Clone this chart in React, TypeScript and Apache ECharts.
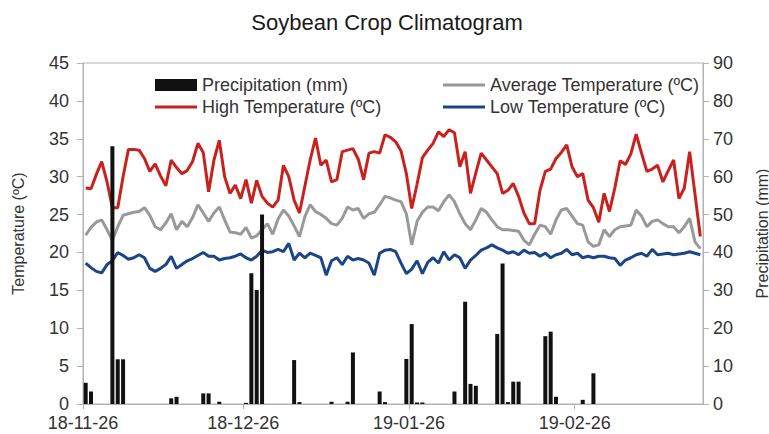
import React, { useEffect, useRef } from 'react';
import * as echarts from 'echarts';

const START_DATE = '2018-11-26';
const DAY_COUNT = 116;
const TICK_LABELS = ['18-11-26', '18-12-26', '19-01-26', '19-02-26'];

const HIGH_TEMP = [
  28.5, 28.4, 30.3, 32.0, 29.3, 25.9, 25.9, 30.0, 33.6, 33.6,
  33.5, 32.4, 30.7, 31.7, 30.1, 28.8, 32.2, 31.2, 30.4, 30.8,
  32.0, 34.4, 33.2, 28.0, 32.2, 34.8, 30.0, 27.8, 28.9, 27.1,
  29.6, 26.5, 29.5, 27.4, 26.5, 26.0, 26.9, 31.5, 30.0, 26.9,
  25.2, 28.7, 32.2, 35.1, 31.5, 32.2, 29.3, 29.6, 33.3, 33.5,
  33.7, 32.3, 29.6, 33.1, 33.3, 33.1, 35.5, 35.2, 34.6, 33.4,
  30.4, 25.8, 29.0, 32.5, 33.5, 34.4, 35.9, 35.3, 36.2, 35.8,
  31.3, 33.3, 27.8, 30.5, 33.1, 32.2, 31.3, 30.4, 27.8, 28.2,
  29.1, 27.4, 25.2, 23.8, 23.8, 28.2, 30.7, 31.0, 32.4, 33.2,
  34.2, 31.3, 30.0, 30.4, 26.9, 25.9, 24.0, 27.8, 25.4, 28.5,
  32.1, 31.6, 33.0, 35.6, 33.1, 30.7, 31.0, 31.5, 29.3, 30.8,
  32.2, 27.1, 28.5, 33.3, 27.7, 22.1,
];

const AVG_TEMP = [
  22.3, 23.3, 24.0, 24.3, 23.0, 21.6, 23.4, 24.9, 25.1, 25.3,
  25.4, 25.9, 24.9, 23.4, 23.0, 23.9, 25.1, 23.0, 24.1, 23.4,
  24.6, 26.3, 25.2, 24.1, 25.2, 26.0, 24.3, 22.7, 22.6, 22.4,
  23.3, 21.9, 22.2, 23.0, 23.8, 22.4, 24.4, 25.6, 24.8, 23.5,
  22.1, 24.7, 26.3, 25.4, 25.0, 24.5, 23.8, 23.6, 24.5, 26.0,
  25.6, 25.8, 24.5, 25.1, 25.3, 26.3, 27.4, 27.2, 26.9, 26.7,
  25.1, 21.0, 24.1, 25.3, 26.0, 26.0, 25.5, 26.7, 27.6, 26.7,
  25.1, 23.8, 23.0, 24.3, 25.8, 25.3, 24.3, 23.4, 23.0, 23.0,
  22.9, 22.8, 21.6, 21.0, 22.4, 23.6, 23.4, 22.4, 24.3, 25.6,
  25.8, 24.8, 23.8, 23.6, 21.4, 20.8, 21.0, 23.0, 22.1, 23.0,
  23.4, 23.5, 23.6, 25.6, 24.8, 23.4, 24.1, 24.3, 23.8, 23.4,
  23.4, 22.6, 23.4, 24.5, 21.4, 20.5,
];

const LOW_TEMP = [
  18.6, 18.0, 17.5, 17.3, 18.4, 18.9, 20.0, 19.6, 19.1, 19.3,
  19.7, 19.3, 17.9, 17.5, 17.9, 18.4, 19.5, 17.9, 18.4, 18.9,
  19.2, 19.6, 20.0, 19.5, 19.5, 19.0, 19.2, 19.3, 19.5, 19.8,
  19.3, 19.0, 19.5, 20.3, 20.0, 20.1, 20.4, 20.1, 21.2, 19.0,
  19.9, 19.3, 19.9, 19.6, 19.3, 17.0, 18.9, 19.3, 18.4, 19.5,
  19.0, 19.2, 19.0, 18.6, 17.0, 19.9, 20.3, 20.4, 20.1, 18.6,
  17.2, 17.8, 18.9, 17.2, 18.7, 19.3, 18.6, 20.1, 19.0, 19.7,
  19.3, 17.9, 19.0, 19.6, 20.3, 20.6, 21.0, 20.6, 20.3, 19.9,
  20.1, 19.7, 20.3, 19.9, 20.0, 19.5, 19.9, 19.3, 19.7, 19.9,
  20.4, 19.7, 19.9, 19.3, 19.5, 19.3, 19.5, 19.5, 19.3, 19.2,
  18.3, 19.0, 19.3, 19.7, 19.9, 19.5, 20.4, 19.7, 19.8, 19.9,
  19.7, 19.8, 19.9, 20.1, 19.9, 19.7,
];

const PRECIPITATION = [
  5.6, 3.3, 0, 0, 0, 68, 11.8, 11.8, 0, 0,
  0, 0, 0, 0, 0, 0, 1.5, 1.9, 0, 0,
  0, 0, 2.8, 2.8, 0, 0.6, 0, 0, 0, 0,
  0.3, 34.5, 30.1, 50, 0, 0, 0, 0, 0, 11.6,
  0.5, 0, 0, 0, 0, 0, 0.6, 0, 0, 0.6,
  13.6, 0, 0, 0, 0, 3.3, 0.5, 0, 0, 0,
  11.9, 21.1, 0.4, 0.4, 0, 0, 0, 0, 0, 3.3,
  0, 27, 5.3, 4.8, 0, 0, 0, 18.5, 37.1, 0.5,
  5.9, 5.9, 0, 0, 0, 0, 17.9, 19.1, 1.9, 0,
  0, 0, 0, 1.1, 0, 8.1, 0, 0, 0, 0,
  0, 0, 0, 0, 0, 0, 0, 0, 0, 0,
  0, 0, 0, 0, 0, 0,
];

function buildDays(n: number): string[] {
  const [y, m, d] = START_DATE.split('-').map(Number);
  const out: string[] = [];
  for (let i = 0; i < n; i++) {
    const dt = new Date(Date.UTC(y, m - 1, d + i));
    const yy = String(dt.getUTCFullYear()).slice(2);
    const mm = String(dt.getUTCMonth() + 1).padStart(2, '0');
    const dd = String(dt.getUTCDate()).padStart(2, '0');
    out.push(`${yy}-${mm}-${dd}`);
  }
  return out;
}

const FONT = 'Liberation Sans';
const TEXT = '#333333';
const AXIS = '#b3b3b3';
const RED = '#c9211e';
const GREY = '#999999';
const BLUE = '#1c4587';
const BAR = '#111111';

const legendItem = (name: string, left: number, top: number, iconHeight: number) => ({
  left,
  top,
  orient: 'horizontal',
  itemWidth: 42,
  itemHeight: iconHeight,
  padding: 0,
  icon: 'rect',
  textStyle: { fontSize: 18, color: TEXT, fontFamily: FONT },
  data: [{ name, icon: 'rect' }],
});

export default function App() {
  const ref = useRef<HTMLDivElement>(null);

  useEffect(() => {
    if (!ref.current) return;
    const chart = echarts.init(ref.current, null, { renderer: 'svg' });
    const days = buildDays(DAY_COUNT);
    const boundaries = buildDays(DAY_COUNT + 1);
    const showTick = (_i: number, v: string) => TICK_LABELS.includes(v);

    chart.setOption({
      animation: false,
      backgroundColor: '#ffffff',
      textStyle: { fontFamily: FONT },
      title: {
        text: 'Soybean Crop Climatogram',
        left: 387,
        textAlign: 'center',
        top: 11,
        padding: 0,
        textStyle: { fontSize: 22, fontWeight: 'normal', color: '#1a1a1a', fontFamily: FONT },
      },
      legend: [
        legendItem('Precipitation (mm)', 155, 76, 12),
        legendItem('High Temperature (ºC)', 155, 98, 3),
        legendItem('Average Temperature (ºC)', 443, 76, 3),
        legendItem('Low Temperature (ºC)', 443, 98, 3),
      ],
      grid: {
        left: 83,
        right: 66,
        top: 63,
        bottom: 30,
        containLabel: false,
        outerBoundsMode: 'none',
        show: true,
        borderColor: AXIS,
        borderWidth: 1,
      },
      xAxis: [
        {
          type: 'category',
          data: days,
          boundaryGap: true,
          show: false,
        },
        {
          type: 'category',
          data: boundaries,
          boundaryGap: false,
          position: 'bottom',
          axisLine: { show: true, lineStyle: { color: AXIS } },
          axisTick: { show: true, interval: showTick, length: 5, lineStyle: { color: AXIS } },
          axisLabel: {
            interval: showTick,
            margin: 10,
            fontSize: 18,
            color: TEXT,
            fontFamily: FONT,
          },
          splitLine: { show: false },
        },
      ],
      yAxis: [
        {
          type: 'value',
          min: 0,
          max: 45,
          interval: 5,
          position: 'left',
          name: 'Temperature (ºC)',
          nameLocation: 'middle',
          nameRotate: 90,
          nameGap: 57,
          nameTextStyle: { fontSize: 16, color: TEXT, fontFamily: FONT },
          axisLine: { show: true, lineStyle: { color: AXIS } },
          axisTick: { show: true, length: 6, lineStyle: { color: AXIS } },
          axisLabel: { margin: 14, fontSize: 18, color: TEXT, fontFamily: FONT },
          splitLine: { show: false },
        },
        {
          type: 'value',
          min: 0,
          max: 90,
          interval: 10,
          position: 'right',
          name: 'Precipitation (mm)',
          nameLocation: 'middle',
          nameRotate: 90,
          nameGap: 51,
          nameTextStyle: { fontSize: 16, color: TEXT, fontFamily: FONT },
          axisLine: { show: true, lineStyle: { color: AXIS } },
          axisTick: { show: true, length: 6, lineStyle: { color: AXIS } },
          axisLabel: { margin: 10, fontSize: 18, color: TEXT, fontFamily: FONT },
          splitLine: { show: false },
        },
      ],
      series: [
        {
          name: 'Average Temperature (ºC)',
          type: 'line',
          xAxisIndex: 0,
          yAxisIndex: 0,
          data: AVG_TEMP,
          symbol: 'none',
          color: GREY,
          itemStyle: { color: GREY },
          lineStyle: { color: GREY, width: 3 },
          z: 2,
        },
        {
          name: 'High Temperature (ºC)',
          type: 'line',
          xAxisIndex: 0,
          yAxisIndex: 0,
          data: HIGH_TEMP,
          symbol: 'none',
          color: RED,
          itemStyle: { color: RED },
          lineStyle: { color: RED, width: 3 },
          z: 2,
        },
        {
          name: 'Low Temperature (ºC)',
          type: 'line',
          xAxisIndex: 0,
          yAxisIndex: 0,
          data: LOW_TEMP,
          symbol: 'none',
          color: BLUE,
          itemStyle: { color: BLUE },
          lineStyle: { color: BLUE, width: 3 },
          z: 2,
        },
        {
          name: 'Precipitation (mm)',
          type: 'bar',
          xAxisIndex: 0,
          yAxisIndex: 1,
          data: PRECIPITATION,
          barWidth: 4,
          color: BAR,
          itemStyle: { color: BAR },
          z: 3,
        },
      ],
    });

    return () => chart.dispose();
  }, []);

  return (
    <div
      ref={ref}
      style={{ position: 'absolute', left: 0, top: 0, width: 769, height: 434 }}
    />
  );
}
